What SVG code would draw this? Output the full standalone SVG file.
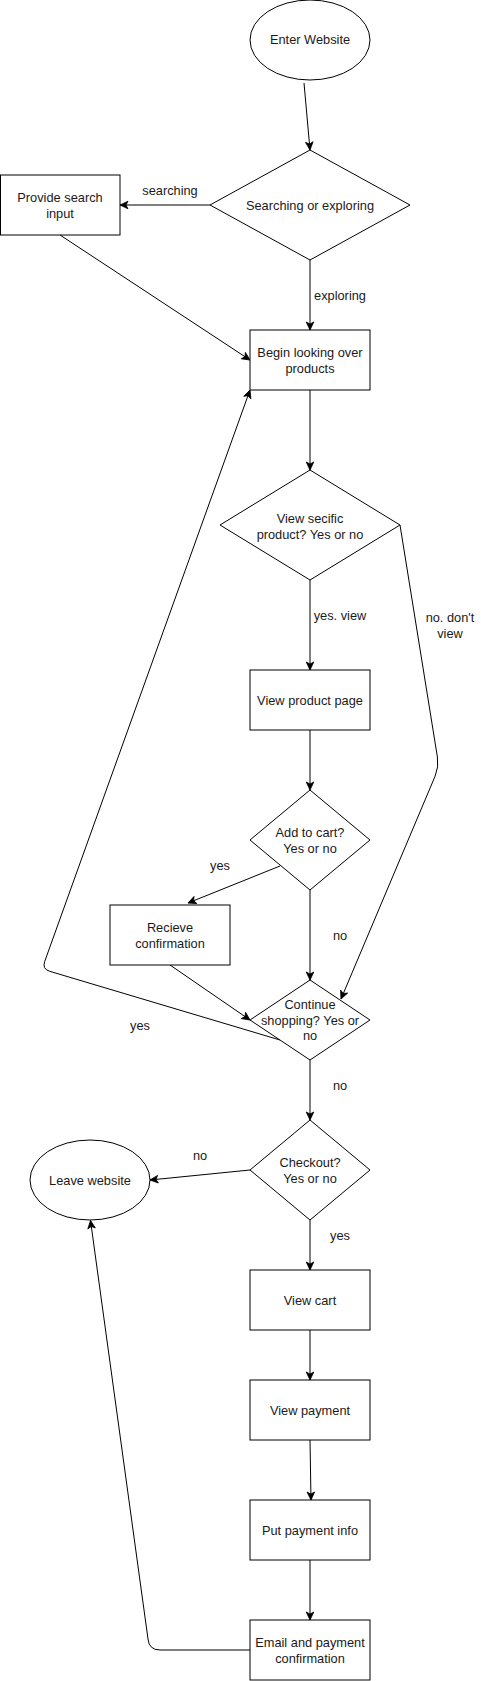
<svg xmlns="http://www.w3.org/2000/svg" width="481" height="1681" viewBox="0 0 481 1681">
<style>
.s{fill:#fff;stroke:#000;stroke-width:1}
.t{font-family:"Liberation Sans",Arial,sans-serif;font-size:12.8px;fill:#1a1a1a;text-anchor:middle}
.e{fill:none;stroke:#000;stroke-width:1}
</style>
<defs>
<marker id="a" markerUnits="userSpaceOnUse" markerWidth="10" markerHeight="10" viewBox="0 0 10 10" refX="9" refY="5" orient="auto">
<path d="M1,1.2 L9,5 L1,8.8 L3,5 z" fill="#000" stroke="#000" stroke-width="0.8"/>
</marker>
</defs>
<rect width="481" height="1681" fill="#fff"/>
<g id="connectors">
<path class="e" d="M304,83 L310,150" marker-end="url(#a)"/>
<path class="e" d="M210,205 L120,205" marker-end="url(#a)"/>
<path class="e" d="M310,260 L310,330" marker-end="url(#a)"/>
<path class="e" d="M60,235 L250,360" marker-end="url(#a)"/>
<path class="e" d="M310,390 L310,470" marker-end="url(#a)"/>
<path class="e" d="M310,580 L310,670" marker-end="url(#a)"/>
<path class="e" d="M400,525 L437.4,757 Q439,767 435.1,776.2 L341,999" marker-end="url(#a)"/>
<path class="e" d="M310,730 L310,790" marker-end="url(#a)"/>
<path class="e" d="M280,866 L188,903" marker-end="url(#a)"/>
<path class="e" d="M310,890 L310,980" marker-end="url(#a)"/>
<path class="e" d="M170,965 L250,1020" marker-end="url(#a)"/>
<path class="e" d="M280,1040 L49.7,971.3 Q42,969 44.7,961.5 L250,390" marker-end="url(#a)"/>
<path class="e" d="M310,1060 L310,1120" marker-end="url(#a)"/>
<path class="e" d="M250,1170 L150,1180" marker-end="url(#a)"/>
<path class="e" d="M310,1220 L310,1270" marker-end="url(#a)"/>
<path class="e" d="M310,1330 L310,1380" marker-end="url(#a)"/>
<path class="e" d="M310,1440 L311,1500" marker-end="url(#a)"/>
<path class="e" d="M310,1560 L310,1620" marker-end="url(#a)"/>
<path class="e" d="M250,1650 L160,1650 Q149,1650 148,1639 L90.5,1220.5" marker-end="url(#a)"/>
<text class="t" x="170" y="195">searching</text>
<text class="t" x="340" y="300">exploring</text>
<text class="t" x="340" y="620">yes. view</text>
<text class="t" x="450" y="622">no. don't</text>
<text class="t" x="450" y="638">view</text>
<text class="t" x="220" y="870">yes</text>
<text class="t" x="340" y="940">no</text>
<text class="t" x="140" y="1030">yes</text>
<text class="t" x="340" y="1090">no</text>
<text class="t" x="200" y="1160">no</text>
<text class="t" x="340" y="1240">yes</text>
</g>
<g id="enter"><ellipse class="s" cx="310" cy="40" rx="60" ry="40"/><text class="t" x="310" y="44">Enter Website</text></g>
<g id="searchOrExplore"><path class="s" d="M310,150 L410,205 L310,260 L210,205 Z"/><text class="t" x="310" y="209.5">Searching or exploring</text></g>
<g id="provideSearch"><rect class="s" x="0.5" y="175" width="119.5" height="60"/><text class="t" x="60" y="201.5">Provide search</text><text class="t" x="60" y="217.5">input</text></g>
<g id="beginLooking"><rect class="s" x="250" y="330" width="120" height="60"/><text class="t" x="310" y="356.5">Begin looking over</text><text class="t" x="310" y="372.5">products</text></g>
<g id="viewSpecific"><path class="s" d="M310,470 L400,525 L310,580 L220,525 Z"/><text class="t" x="310" y="522.5">View secific</text><text class="t" x="310" y="538.5">product? Yes or no</text></g>
<g id="viewProduct"><rect class="s" x="250" y="670" width="120" height="60"/><text class="t" x="310" y="704.5">View product page</text></g>
<g id="addToCart"><path class="s" d="M310,790 L370,840 L310,890 L250,840 Z"/><text class="t" x="310" y="836.5">Add to cart?</text><text class="t" x="310" y="852.5">Yes or no</text></g>
<g id="receiveConf"><rect class="s" x="110" y="905" width="120" height="60"/><text class="t" x="170" y="931.5">Recieve</text><text class="t" x="170" y="947.5">confirmation</text></g>
<g id="continueShopping"><path class="s" d="M310,980 L370,1020 L310,1060 L250,1020 Z"/><text class="t" x="310" y="1008.5">Continue</text><text class="t" x="310" y="1024.5">shopping? Yes or</text><text class="t" x="310" y="1040">no</text></g>
<g id="checkout"><path class="s" d="M310,1120 L370,1170 L310,1220 L250,1170 Z"/><text class="t" x="310" y="1166.5">Checkout?</text><text class="t" x="310" y="1182.5">Yes or no</text></g>
<g id="leave"><ellipse class="s" cx="90" cy="1180" rx="60" ry="40"/><text class="t" x="90" y="1184.5">Leave website</text></g>
<g id="viewCart"><rect class="s" x="250" y="1270" width="120" height="60"/><text class="t" x="310" y="1304.5">View cart</text></g>
<g id="viewPayment"><rect class="s" x="250" y="1380" width="120" height="60"/><text class="t" x="310" y="1414.5">View payment</text></g>
<g id="putPayment"><rect class="s" x="250" y="1500" width="120" height="60"/><text class="t" x="310" y="1534.5">Put payment info</text></g>
<g id="emailConf"><rect class="s" x="250" y="1620" width="120" height="60"/><text class="t" x="310" y="1646.5">Email and payment</text><text class="t" x="310" y="1662.5">confirmation</text></g>
</svg>
